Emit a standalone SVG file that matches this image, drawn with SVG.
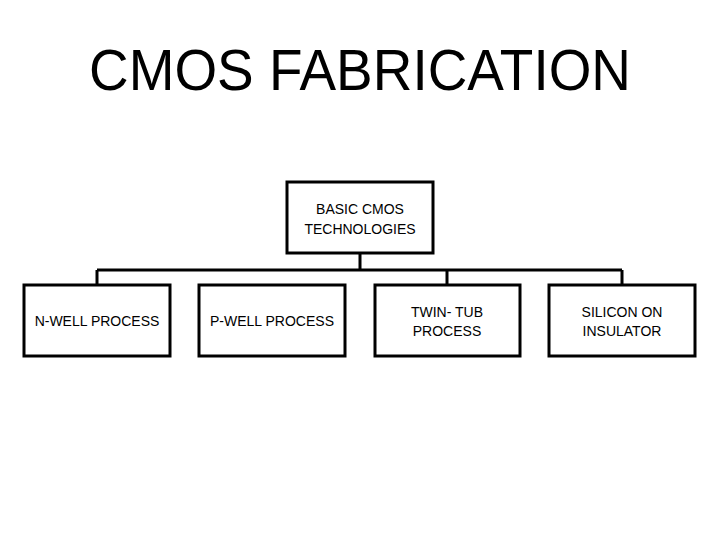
<svg xmlns="http://www.w3.org/2000/svg" width="720" height="540" viewBox="0 0 720 540">
<style>
.b{fill:#fff;stroke:#000;stroke-width:3}
.t{font-family:"Liberation Sans",Arial,sans-serif;font-size:14px;text-anchor:middle;fill:#000}
.c{fill:none;stroke:#000;stroke-width:3}
</style>
<rect width="720" height="540" fill="#fff"/>
<text x="360" y="90" style="font-family:'Liberation Sans',Arial,sans-serif;font-size:58px;text-anchor:middle" textLength="542" lengthAdjust="spacingAndGlyphs">CMOS FABRICATION</text>
<g id="connectors">
<path class="c" d="M360 253V270M97 270H622M97 270V285M447 270V285M622 270V285"/>
</g>
<g id="root"><rect class="b" x="287" y="182" width="146" height="71"/><text class="t" x="360" y="214">BASIC CMOS</text><text class="t" x="360" y="234">TECHNOLOGIES</text></g>
<g id="nwell"><rect class="b" x="24" y="285" width="146" height="71"/><text class="t" x="97" y="326">N-WELL PROCESS</text></g>
<g id="pwell"><rect class="b" x="199" y="285" width="146" height="71"/><text class="t" x="272" y="326">P-WELL PROCESS</text></g>
<g id="twintub"><rect class="b" x="375" y="285" width="145" height="71"/><text class="t" x="447" y="317">TWIN- TUB</text><text class="t" x="447" y="336">PROCESS</text></g>
<g id="soi"><rect class="b" x="549" y="285" width="146" height="71"/><text class="t" x="622" y="317">SILICON ON</text><text class="t" x="622" y="336">INSULATOR</text></g>
</svg>
